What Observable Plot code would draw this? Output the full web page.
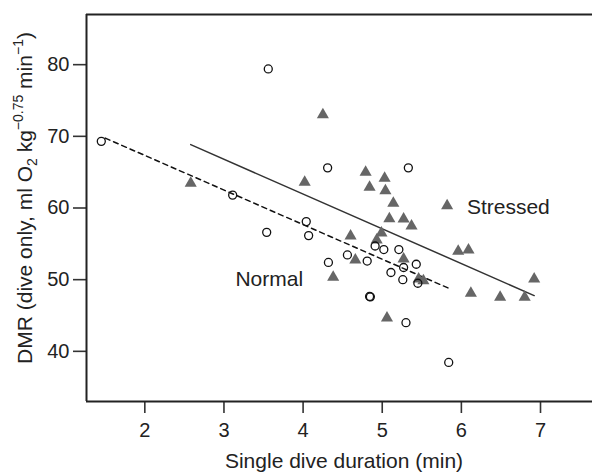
<!DOCTYPE html>
<html><head><meta charset="utf-8">
<script src="https://cdn.jsdelivr.net/npm/d3@7"></script>
<script src="https://cdn.jsdelivr.net/npm/@observablehq/plot@0.6"></script>
<style>body{margin:0;background:#fff} svg{display:block}</style>
</head><body><div id="chart"></div>
<script>
// Normal (open circles)
const normalX = [1.45, 3.56, 4.31, 5.33, 3.11, 4.04, 3.54, 4.07, 4.91, 5.02, 5.21, 4.56, 4.32, 4.81, 5.43, 5.27, 5.11, 5.26, 5.45, 4.84, 4.85, 5.30, 5.84];
const normalY = [69.3, 79.4, 65.6, 65.6, 61.8, 58.1, 56.6, 56.15, 54.7, 54.2, 54.2, 53.45, 52.4, 52.6, 52.15, 51.7, 51.0, 50.0, 49.5, 47.65, 47.6, 44.0, 38.45];
// Stressed (filled triangles)
const stressedX = [2.58, 4.02, 4.25, 4.79, 5.03, 4.84, 5.04, 5.14, 5.82, 5.09, 5.27, 5.37, 4.60, 4.99, 4.93, 5.96, 6.09, 4.66, 5.27, 4.38, 5.46, 5.52, 6.12, 5.06, 6.92, 6.49, 6.80];
const stressedY = [63.45, 63.6, 73.0, 65.0, 64.15, 62.9, 62.4, 60.65, 60.3, 58.5, 58.45, 57.5, 56.1, 56.5, 55.55, 53.95, 54.15, 52.75, 52.9, 50.35, 50.1, 49.85, 48.1, 44.65, 50.1, 47.55, 47.55];
// Regression lines (end points)
const normalFitX = [1.5, 5.84];
const normalFitY = [69.75, 48.8];
const stressedFitX = [2.58, 6.92];
const stressedFitY = [68.84, 47.78];
// Ticks and labels
const xTicks = [2, 3, 4, 5, 6, 7];
const yTicks = [40, 50, 60, 70, 80];
const xDomain = [1.263, 7.657];
const yDomain = [33, 87];
const groupNames = ["Normal", "Stressed"];
const groupLabelX = [4.0, 6.07];
const groupLabelY = [50.1, 60.12];
const xLabel = "Single dive duration (min)";

const normal = normalX.map((x, i) => ({x, y: normalY[i]}));
const stressed = stressedX.map((x, i) => ({x, y: stressedY[i]}));
const normalFit = normalFitX.map((x, i) => ({x, y: normalFitY[i]}));
const stressedFit = stressedFitX.map((x, i) => ({x, y: stressedFitY[i]}));
const groupLabels = groupNames.map((t, i) => ({t, x: groupLabelX[i], y: groupLabelY[i]}));

const ink = "#222";
const fmt = d => String(d);
const chart = Plot.plot({
  width: 592,
  height: 475,
  marginLeft: 86,
  marginRight: 0,
  marginTop: 14,
  marginBottom: 74,
  style: {fontFamily: "'Liberation Sans', Arial, sans-serif", fontSize: "20px", color: ink, background: "#fff", overflow: "visible"},
  x: {domain: xDomain},
  y: {domain: yDomain},
  marks: [
    Plot.axisX({ticks: xTicks, tickFormat: fmt, tickSize: 12, tickPadding: 9, label: null, fontSize: 20, strokeWidth: 1.6, stroke: "#333"}),
    Plot.axisY({ticks: yTicks, tickFormat: fmt, tickSize: 13, tickPadding: 4, label: null, fontSize: 20, strokeWidth: 1.6, stroke: "#333"}),
    Plot.ruleX([xDomain[0]], {stroke: ink, strokeWidth: 2}),
    Plot.ruleY(yDomain, {stroke: ink, strokeWidth: 2}),
    Plot.line(normalFit, {x: "x", y: "y", stroke: "#111", strokeWidth: 1.5, strokeDasharray: "5,4"}),
    Plot.line(stressedFit, {x: "x", y: "y", stroke: "#333", strokeWidth: 1.5}),
    Plot.dot(stressed, {x: "x", y: "y", symbol: "triangle", r: 4.5, fill: "#666", stroke: "none"}),
    Plot.dot(normal, {x: "x", y: "y", r: 4, fill: "#fff", fillOpacity: 0, stroke: "#111", strokeWidth: 1.3}),
    Plot.text(groupLabels.slice(0, 1), {x: "x", y: "y", text: "t", textAnchor: "end", fontSize: 21, fill: ink}),
    Plot.text(groupLabels.slice(1), {x: "x", y: "y", text: "t", textAnchor: "start", fontSize: 21, fill: ink})
  ]
});
document.getElementById("chart").appendChild(chart);

const svg = d3.select(chart);
svg.append("text")
  .attr("x", 344).attr("y", 468)
  .attr("text-anchor", "middle")
  .attr("font-size", 21)
  .attr("fill", ink)
  .text(xLabel);

const yl = svg.append("text")
  .attr("transform", "translate(32,198) rotate(-90)")
  .attr("text-anchor", "middle")
  .attr("font-size", 21)
  .attr("fill", ink);
yl.append("tspan").text("DMR (dive only, ml O");
yl.append("tspan").attr("font-size", 14).attr("dy", 5).text("2");
yl.append("tspan").attr("dy", -5).text(" kg");
yl.append("tspan").attr("font-size", 14).attr("dy", -9).text("\u22120.75");
yl.append("tspan").attr("dy", 9).text(" min");
yl.append("tspan").attr("font-size", 14).attr("dy", -9).text("\u22121");
yl.append("tspan").attr("dy", 9).text(")");
</script>
</body></html>
